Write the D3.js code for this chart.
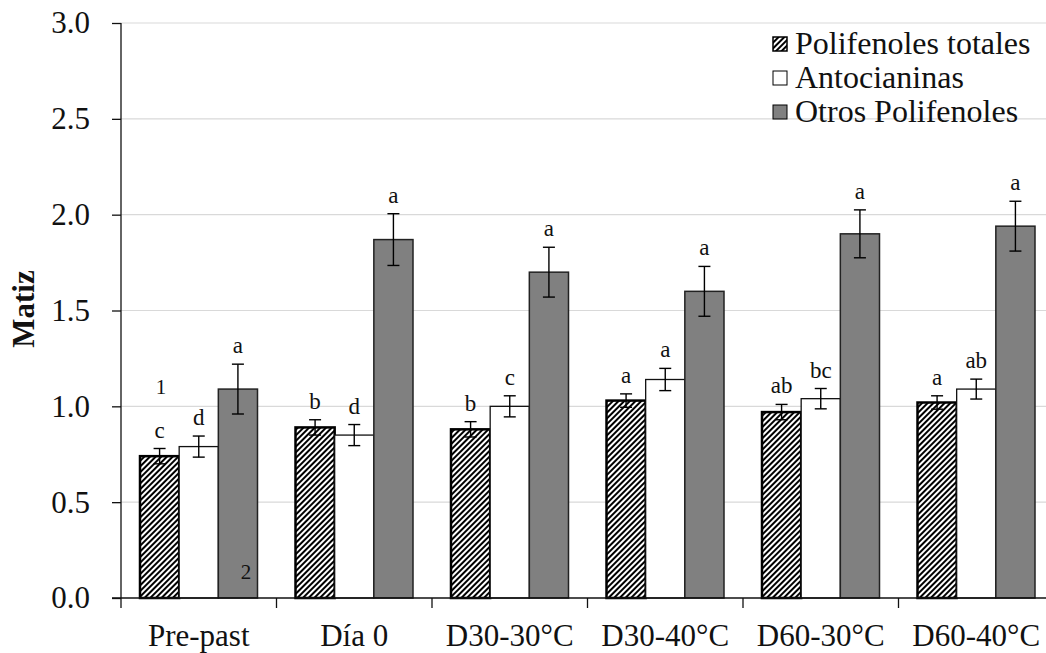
<!DOCTYPE html>
<html>
<head>
<meta charset="utf-8">
<script src="https://cdn.jsdelivr.net/npm/d3@7/dist/d3.min.js"></script>
<style>
  body { margin: 0; background: #fff; }
  text { font-family: "Liberation Serif", "Times New Roman", serif; fill: #111; }
</style>
</head>
<body>
<script>
var width = 1046
var height = 653

// data
var categories = ["Pre-past", "Día 0", "D30-30°C", "D30-40°C", "D60-30°C", "D60-40°C"]
var seriesNames = ["Polifenoles totales", "Antocianinas", "Otros Polifenoles"]
var totales = [0.74, 0.89, 0.88, 1.03, 0.97, 1.02]
var totalesErr = [0.04, 0.04, 0.04, 0.035, 0.04, 0.035]
var antocianinas = [0.79, 0.85, 1.00, 1.14, 1.04, 1.09]
var antocianinasErr = [0.055, 0.055, 0.055, 0.058, 0.053, 0.052]
var otros = [1.09, 1.87, 1.70, 1.60, 1.90, 1.94]
var otrosErr = [0.13, 0.135, 0.13, 0.13, 0.125, 0.13]
var totalesLetters = ["c", "b", "b", "a", "ab", "a"]
var antocianinasLetters = ["d", "d", "c", "a", "bc", "ab"]
var otrosLetters = ["a", "a", "a", "a", "a", "a"]
var yTicks = [0, 0.5, 1.0, 1.5, 2.0, 2.5, 3.0]

var series = [
  { name: seriesNames[0], values: totales, err: totalesErr, letters: totalesLetters },
  { name: seriesNames[1], values: antocianinas, err: antocianinasErr, letters: antocianinasLetters },
  { name: seriesNames[2], values: otros, err: otrosErr, letters: otrosLetters }
]

var rows = []
categories.forEach(function(c, i) {
  series.forEach(function(s, j) {
    rows.push({ cat: c, s: j, v: s.values[i], e: s.err[i], l: s.letters[i] })
  })
})

var plotLeft = 121, plotTop = 23, plotBottom = 598
var plotRight = plotLeft + 6 * 155.5

var svg = d3.select("body")
  .append("svg")
    .attr("width", width)
    .attr("height", height)

// hatch pattern
var defs = svg.append("defs")
defs.append("pattern")
    .attr("id", "hatch")
    .attr("patternUnits", "userSpaceOnUse")
    .attr("width", 4)
    .attr("height", 4)
    .attr("patternTransform", "rotate(45)")
  .call(function(p) {
    p.append("rect").attr("width", 4).attr("height", 4).attr("fill", "#fff")
    p.append("rect").attr("width", 2).attr("height", 4).attr("fill", "#000")
  })

var fills = ["url(#hatch)", "#ffffff", "#808080"]
var strokes = ["#000", "#111", "#222"]
var strokeW = [2.5, 1.3, 1.5]

var x0 = d3.scaleBand().domain(categories).range([plotLeft, plotRight]).padding(0)
var x1 = d3.scaleBand().domain([0, 1, 2]).range([19, x0.bandwidth() - 19]).padding(0)
var y = d3.scaleLinear().domain([0, 3]).range([plotBottom, plotTop])

// gridlines
svg.append("g")
  .selectAll("line")
  .data(yTicks.slice(1))
  .enter()
  .append("line")
    .attr("x1", plotLeft)
    .attr("x2", width)
    .attr("y1", function(d){ return y(d) })
    .attr("y2", function(d){ return y(d) })
    .attr("stroke", "#d9d9d9")
    .attr("stroke-width", 1.2)

// bars
svg.append("g")
  .selectAll("rect")
  .data(rows)
  .enter()
  .append("rect")
    .attr("x", function(d){ return x0(d.cat) + x1(d.s) })
    .attr("y", function(d){ return y(d.v) })
    .attr("width", x1.bandwidth())
    .attr("height", function(d){ return y(0) - y(d.v) })
    .attr("fill", function(d){ return fills[d.s] })
    .attr("stroke", function(d){ return strokes[d.s] })
    .attr("stroke-width", function(d){ return strokeW[d.s] })

// error bars
var eb = svg.append("g").attr("stroke", "#000").attr("stroke-width", 1.4)
rows.forEach(function(d) {
  var cx = x0(d.cat) + x1(d.s) + x1.bandwidth() / 2
  eb.append("line").attr("x1", cx).attr("x2", cx).attr("y1", y(d.v + d.e)).attr("y2", y(d.v - d.e))
  eb.append("line").attr("x1", cx - 6).attr("x2", cx + 6).attr("y1", y(d.v + d.e)).attr("y2", y(d.v + d.e))
  eb.append("line").attr("x1", cx - 6).attr("x2", cx + 6).attr("y1", y(d.v - d.e)).attr("y2", y(d.v - d.e))
})

// significance letters
svg.append("g")
  .selectAll("text")
  .data(rows)
  .enter()
  .append("text")
    .attr("x", function(d){ return x0(d.cat) + x1(d.s) + x1.bandwidth() / 2 })
    .attr("y", function(d){ return y(d.v + d.e) - 11 })
    .attr("text-anchor", "middle")
    .style("font-size", "23px")
    .text(function(d){ return d.l })

// y axis
var yAxis = svg.append("g")
    .attr("transform", "translate(" + plotLeft + ",0)")
    .call(d3.axisLeft(y).tickValues(yTicks).tickSize(9).tickPadding(22).tickFormat(d3.format(".1f")))
yAxis.select(".domain").attr("stroke", "#111").attr("stroke-width", 1.3).attr("d", "M0," + plotTop + "V" + (plotBottom + 10))
yAxis.selectAll(".tick line").attr("stroke", "#111").attr("stroke-width", 1.3)
yAxis.selectAll(".tick text")
    .style("font-family", "'Liberation Serif', serif")
    .style("font-size", "31px")
    .attr("fill", "#111")

// x axis
var xAxis = svg.append("g")
    .attr("transform", "translate(0," + plotBottom + ")")
xAxis.append("line")
    .attr("x1", plotLeft - 9).attr("x2", width)
    .attr("y1", 0).attr("y2", 0)
    .attr("stroke", "#111").attr("stroke-width", 1.3)
xAxis.selectAll(".bt")
  .data(categories.slice(1))
  .enter()
  .append("line")
    .attr("x1", function(d){ return x0(d) })
    .attr("x2", function(d){ return x0(d) })
    .attr("y1", 0).attr("y2", 10)
    .attr("stroke", "#111").attr("stroke-width", 1.3)
xAxis.selectAll(".cl")
  .data(categories)
  .enter()
  .append("text")
    .attr("x", function(d){ return x0(d) + x0.bandwidth() / 2 })
    .attr("y", 48)
    .attr("text-anchor", "middle")
    .style("font-size", "31px")
    .text(function(d){ return d })

// axis title
svg.append("text")
    .attr("transform", "translate(34,309) rotate(-90)")
    .attr("text-anchor", "middle")
    .style("font-size", "31px")
    .style("font-weight", "bold")
    .text("Matiz")

// stray numbers in the figure
svg.append("text").attr("x", 161).attr("y", 394).attr("text-anchor", "middle").style("font-size", "21px").text("1")
svg.append("text").attr("x", 246).attr("y", 579).attr("text-anchor", "middle").style("font-size", "21px").text("2")

// legend
var legend = svg.append("g").attr("transform", "translate(773,30)")
series.forEach(function(s, j) {
  var g = legend.append("g").attr("transform", "translate(0," + (j * 34) + ")")
  g.append("rect")
      .attr("x", 0).attr("y", 7)
      .attr("width", 14).attr("height", 14)
      .attr("fill", fills[j])
      .attr("stroke", "#000")
      .attr("stroke-width", j === 0 ? 1.5 : 1)
  g.append("text")
      .attr("x", 22).attr("y", 24)
      .style("font-size", "32px")
      .text(s.name)
})
</script>
</body>
</html>
